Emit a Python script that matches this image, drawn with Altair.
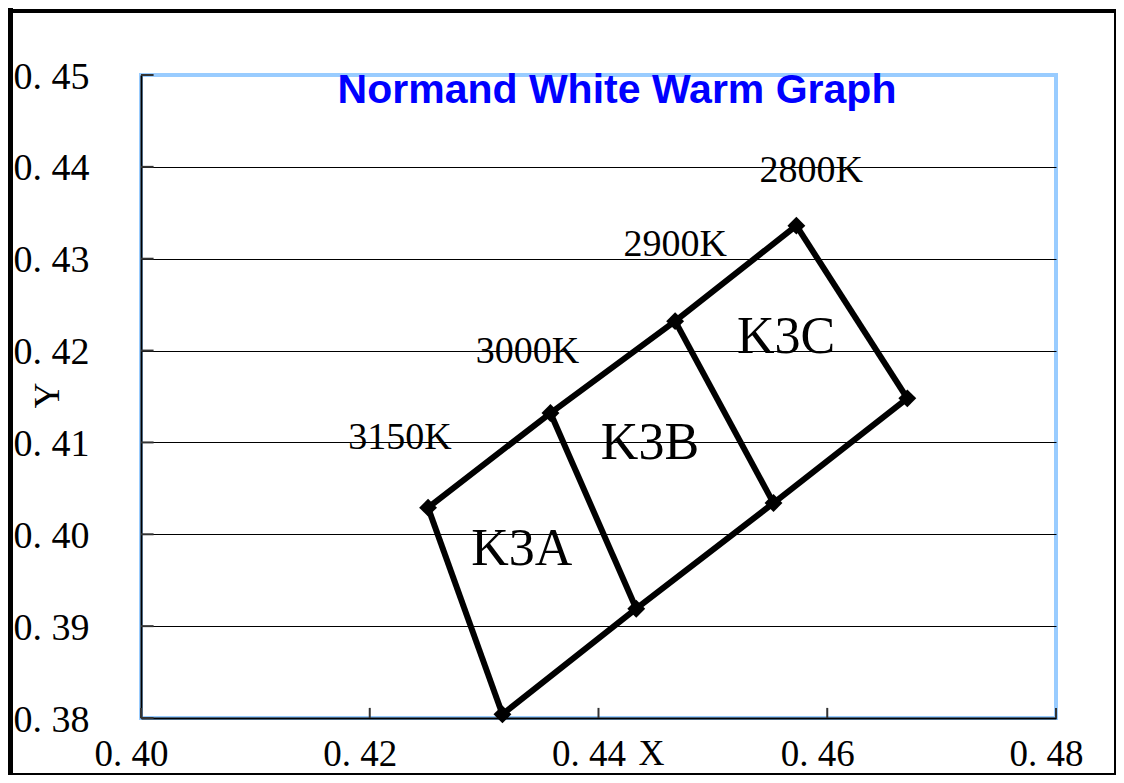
import altair as alt
import pandas as pd

# ---- data ----
title_text = "Normand White Warm Graph"

temps = ["3150K", "3000K", "2900K", "2800K"]
top_x = [0.4251, 0.4358, 0.4467, 0.4573]
top_y = [0.4029, 0.4132, 0.4232, 0.4336]
bot_x = [0.4316, 0.4433, 0.4553, 0.4670]
bot_y = [0.3804, 0.3919, 0.4034, 0.4148]

temp_label_x = [0.42264, 0.4338, 0.4467, 0.4586]
temp_label_y = [0.4105, 0.4198, 0.4315, 0.4396]

bins = ["K3A", "K3B", "K3C"]
bin_label_x = [0.4333, 0.4445, 0.4564]
bin_label_y = [0.3984, 0.4099, 0.4215]

x_ticks = [0.40, 0.42, 0.44, 0.46, 0.48]
y_ticks = [0.38, 0.39, 0.40, 0.41, 0.42, 0.43, 0.44, 0.45]

# ---- tables ----
rows = []
for i, t in enumerate(temps):
    rows.append(dict(seg="upper", ord=i, x=top_x[i], y=top_y[i]))
    rows.append(dict(seg="lower", ord=i, x=bot_x[i], y=bot_y[i]))
    rows.append(dict(seg="v" + t, ord=0, x=top_x[i], y=top_y[i]))
    rows.append(dict(seg="v" + t, ord=1, x=bot_x[i], y=bot_y[i]))
seg_df = pd.DataFrame(rows)
pts_df = pd.DataFrame(dict(x=top_x + bot_x, y=top_y + bot_y))
tlab_df = pd.DataFrame(dict(x=temp_label_x, y=temp_label_y, t=temps))
blab_df = pd.DataFrame(dict(x=bin_label_x, y=bin_label_y, t=bins))
xt_df = pd.DataFrame(dict(x=x_ticks))
yt_df = pd.DataFrame(dict(y=y_ticks))
title_df = pd.DataFrame(dict(t=[title_text]))
one = pd.DataFrame(dict(a=[0]))

W, H = 915, 643
SERIF = "Liberation Serif"

xscale = alt.Scale(domain=[0.40, 0.48], nice=False, zero=False)
yscale = alt.Scale(domain=[0.38, 0.45], nice=False, zero=False)

label_expr = "replace(format(datum.value, '.2f'), '.', '. ')"

xaxis = alt.Axis(
    values=x_ticks, labelExpr=label_expr, grid=False, ticks=False, tickSize=0,
    labelFont=SERIF, labelFontSize=37, labelColor="black",
    labelBaseline="alphabetic", labelPadding=47, labelOffset=-10,
    domainColor="black", domainWidth=2, labelFlush=False, labelOverlap=False,
    title="X", titleFont=SERIF, titleFontSize=36, titleFontWeight="normal",
    titleColor="black", titleX=510, titleY=46, titleBaseline="alphabetic",
    titleAlign="center",
)
yaxis = alt.Axis(
    values=y_ticks, labelExpr=label_expr, grid=True, gridColor="black",
    gridWidth=1,
    gridOpacity={"condition": {"test": "datum.value > 0.4495", "value": 0}, "value": 1},
    ticks=False, tickSize=0,
    labelFont=SERIF, labelFontSize=38, labelColor="black",
    labelPadding=52, labelOffset=2, labelFlush=False, labelOverlap=False,
    domainColor="black", domainWidth=2,
    title="Y", titleFont=SERIF, titleFontSize=36, titleFontWeight="normal",
    titleColor="black", titleX=-83, titleY=320, titleBaseline="alphabetic",
    titleAlign="center", titleAngle=270,
)

X = alt.X("x:Q", scale=xscale, axis=xaxis)
Y = alt.Y("y:Q", scale=yscale, axis=yaxis)

lines = alt.Chart(seg_df).mark_line(color="black", strokeWidth=6).encode(
    x=X, y=Y, detail="seg:N", order="ord:Q"
)
points = alt.Chart(pts_df).mark_point(
    shape="diamond", filled=True, color="black", size=320, opacity=1
).encode(x=X, y=Y)
tlabels = alt.Chart(tlab_df).mark_text(
    font=SERIF, fontSize=38, color="black", baseline="middle", align="center"
).encode(x=X, y=Y, text="t:N")
blabels = alt.Chart(blab_df).mark_text(
    font=SERIF, fontSize=52, color="black", baseline="middle", align="center"
).encode(x=X, y=Y, text="t:N")

xticks = alt.Chart(xt_df).mark_rule(color="#333333", strokeWidth=2).encode(
    x=X, y=alt.datum(0.38), y2=alt.datum(0.3811)
)
yticks = alt.Chart(yt_df).mark_rule(color="#333333", strokeWidth=2).encode(
    y=Y, x=alt.datum(0.40), x2=alt.datum(0.4011)
)

# chart title, drawn inside the top of the plot as in the reference
title = alt.Chart(title_df).mark_text(
    font="Liberation Sans", fontSize=41, fontWeight="bold", color="#0000FF",
    align="center", baseline="alphabetic"
).encode(x=alt.value(476), y=alt.value(28), text="t:N")

# outer frame of the picture
fl = alt.Chart(one).mark_rule(color="black", strokeWidth=5).encode(
    x=alt.value(-130.5), y=alt.value(-67), y2=alt.value(700))
ft = alt.Chart(one).mark_rule(color="black", strokeWidth=4).encode(
    y=alt.value(-64), x=alt.value(-133), x2=alt.value(975))
fr = alt.Chart(one).mark_rule(color="black", strokeWidth=2).encode(
    x=alt.value(974), y=alt.value(-66), y2=alt.value(700))
fb = alt.Chart(one).mark_rule(color="black", strokeWidth=2).encode(
    y=alt.value(699), x=alt.value(-133), x2=alt.value(975))

chart = alt.layer(
    xticks, yticks, lines, points, tlabels, blabels, title, fl, ft, fr, fb
).properties(
    width=W, height=H,
    padding={"left": 133, "top": 67, "right": 60, "bottom": 57},
    autosize=alt.AutoSizeParams(type="none"),
    background="white",
).configure_view(
    stroke="#99CCFF", strokeWidth=4
)

chart.save("out.html", embed_options={"renderer": "svg", "actions": False})
